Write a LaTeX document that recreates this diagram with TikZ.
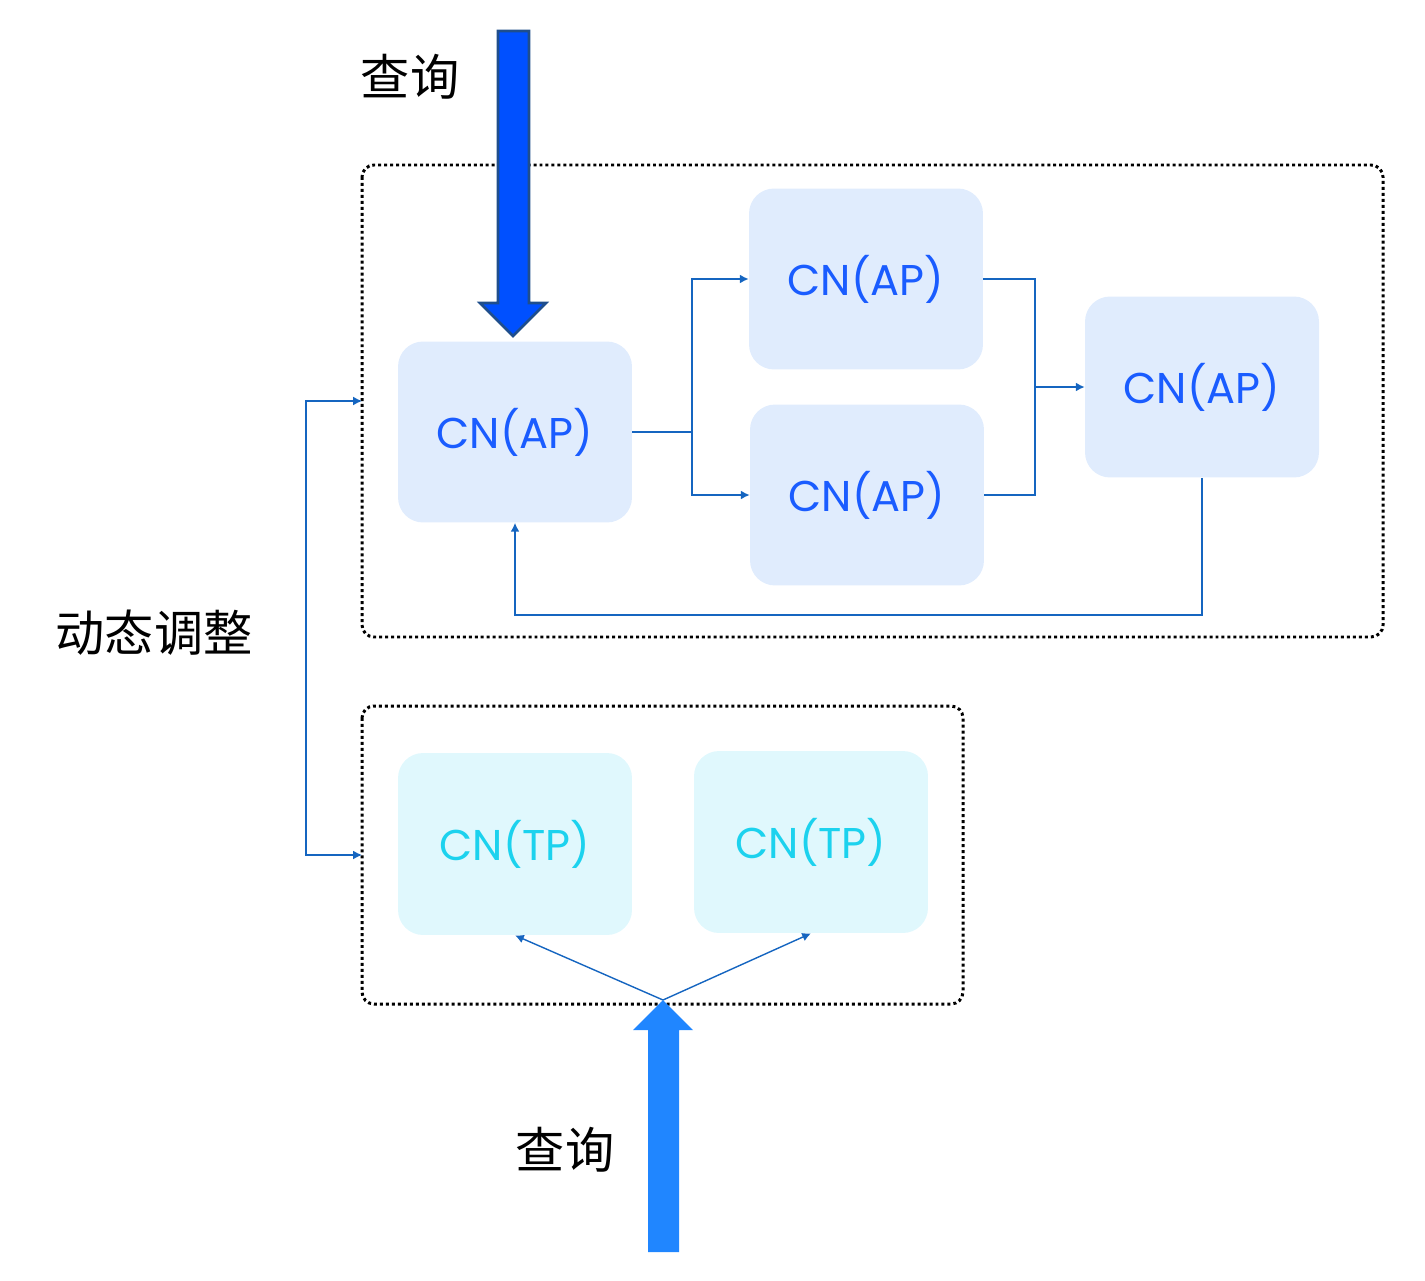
\documentclass[tikz,border=0pt]{standalone}
\usepackage{fontspec}
\setmainfont{Poppins}
\newfontfamily\cjk{Noto Sans CJK SC}
\usetikzlibrary{arrows.meta}
\definecolor{apfill}{HTML}{E0ECFD}
\definecolor{aptext}{HTML}{1A5CFF}
\definecolor{tpfill}{HTML}{E0F8FD}
\definecolor{tptext}{HTML}{1CD2EE}
\definecolor{conn}{HTML}{1565C0}
\definecolor{bigtop}{HTML}{0050FF}
\definecolor{bigtopedge}{HTML}{1F4E8C}
\definecolor{bigbot}{HTML}{2086FF}
\tikzset{
  x=0.02cm, y=-0.02cm,
  apbox/.style={fill=apfill, rounded corners=0.5cm, minimum width=4.68cm, minimum height=3.62cm, inner sep=0pt, text=aptext, font=\fontsize{24.5}{28}\selectfont},
  tpbox/.style={fill=tpfill, rounded corners=0.5cm, minimum width=4.68cm, minimum height=3.64cm, inner sep=0pt, text=tptext, font=\fontsize{24.5}{28}\selectfont},
  frame/.style={draw=black, line width=1.7pt, dash pattern=on 1.7pt off 1.7pt, rounded corners=0.24cm},
  conn/.style={draw=conn, line width=0.8pt},
  connarr/.style={conn, -{Latex[length=5pt,width=5pt]}},
  cjklabel/.style={font=\cjk\fontsize{28}{30}\selectfont, text=black, inner sep=0pt},
}
\begin{document}
\begin{tikzpicture}
\useasboundingbox (0,0) rectangle (1425,1280);
% frames
\draw[frame] (362,165) rectangle (1383,637);
\draw[frame] (362,706) rectangle (963,1004);
\coordinate (topin) at (362,401);
\coordinate (botin) at (362,855);
% boxes
\node[apbox] (ap1) at (515,432) {CN(AP)};
\node[apbox] (ap2) at (866,279) {CN(AP)};
\node[apbox] (ap3) at (867,495) {CN(AP)};
\node[apbox] (ap4) at (1202,387) {CN(AP)};
\node[tpbox] (tp1) at (515,844) {CN(TP)};
\node[tpbox] (tp2) at (811,842) {CN(TP)};
% connectors
\coordinate (fork) at (692,432);
\coordinate (join) at (1035,387);
\draw[conn] (ap1.east) -- (fork);
\draw[connarr] (fork) |- (ap2.west);
\draw[connarr] (fork) |- (ap3.west);
\draw[conn] (ap2.east) -| (join);
\draw[conn] (ap3.east) -| (join);
\draw[connarr] (join) -- (ap4.west);
\draw[connarr] (ap4.south) -- ++(0,137) -| (ap1.south);
\draw[connarr] (306,855) |- (topin);
\draw[connarr] (306,401) |- (botin);
\coordinate (split) at (663,1000);
\draw[connarr] (split) -- (tp1.south);
\draw[connarr] (split) -- (tp2.south);
% big arrows
\draw[fill=bigtop, draw=bigtopedge, line width=1.5pt, line join=miter]
  (498,31) -- (529,31) -- (529,303) -- (546,303) -- (513,336) -- (480,303) -- (498,303) -- cycle;
\fill[bigbot] (648,1252) -- (679,1252) -- (679,1030) -- (693,1030) -- (663,1000) -- (633,1030) -- (648,1030) -- cycle;
% labels
\node[cjklabel] (q1) at (410,77) {查询};
\node[cjklabel] (q2) at (565,1150) {查询};
\node[cjklabel] (dyn) at (154,633) {动态调整};
\end{tikzpicture}
\end{document}
